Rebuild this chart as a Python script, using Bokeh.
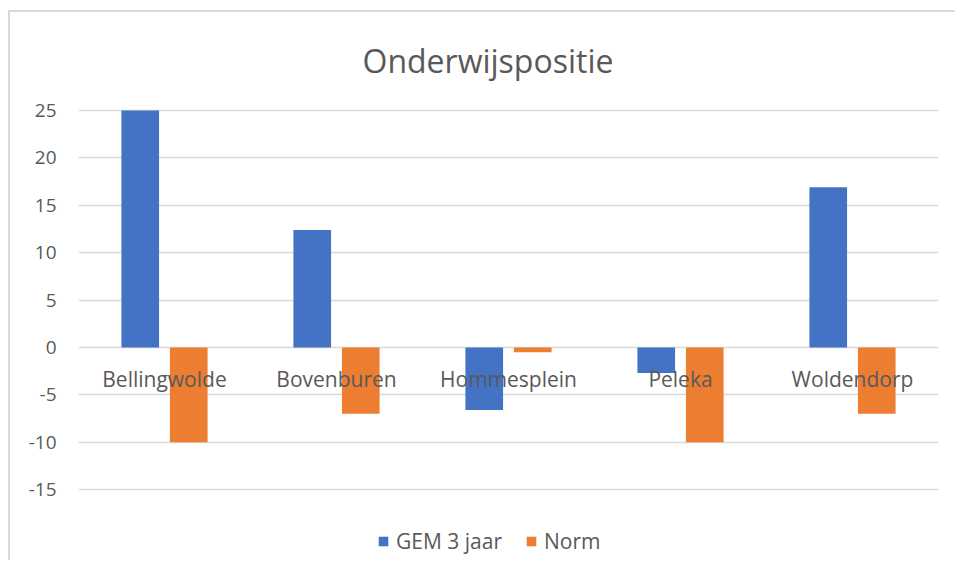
from bokeh.plotting import figure
from bokeh.models import (ColumnDataSource, FactorRange, Range1d, FixedTicker, Legend, LegendItem,
                          CustomJSTickFormatter)
from bokeh.transform import dodge
from bokeh.core.properties import value
from bokeh.embed import file_html
from bokeh.resources import INLINE

categories = ["Bellingwolde", "Bovenburen", "Hommesplein", "Peleka", "Woldendorp"]
gem_3_jaar = [25.0, 12.4, -6.6, -2.7, 16.9]
norm = [-10.0, -7.0, -0.5, -10.0, -7.0]
y_ticks = [-15, -10, -5, 0, 5, 10, 15, 20, 25]
title_text = "Onderwijspositie"
series_names = ["GEM 3 jaar", "Norm"]

FONT = "Open Sans"
GRAY = "#595959"
BLUE = "#4472C4"
ORANGE = "#ED7D31"

src = ColumnDataSource(dict(cat=categories, gem=gem_3_jaar, norm=norm,
                            zero=[0] * len(categories)))

p = figure(x_range=FactorRange(*categories, range_padding=0),
           y_range=Range1d(-22.15, 25.316),
           width=947, height=550, output_backend="svg", toolbar_location=None,
           min_border_left=68, min_border_right=19, min_border_top=95, min_border_bottom=5)
p.margin = (10, 0, 0, 8)

p.title.text = title_text
p.title.align = "left"
p.title.offset = 284
p.title.vertical_align = "top"
p.title.text_font = FONT
p.title.text_font_size = "32px"
p.title.text_font_style = "normal"
p.title.text_color = GRAY
p.title.standoff = 48

p.outline_line_color = None
p.xaxis.visible = False
p.xgrid.grid_line_color = None
p.ygrid.grid_line_color = "#d9d9d9"
p.ygrid.grid_line_width = 1.5
p.yaxis.ticker = FixedTicker(ticks=y_ticks)
p.yaxis.formatter = CustomJSTickFormatter(code="return tick.toString();")
p.yaxis.axis_line_color = None
p.yaxis.major_tick_line_color = None
p.yaxis.minor_tick_line_color = None
p.yaxis.major_label_text_font = FONT
p.yaxis.major_label_text_font_size = "19px"
p.yaxis.major_label_text_color = GRAY
p.yaxis.major_label_standoff = 16

r1 = p.vbar(x=dodge("cat", -0.141, range=p.x_range), top="gem", bottom=0, width=0.219,
            source=src, fill_color=BLUE, line_color=None)
r2 = p.vbar(x=dodge("cat", 0.141, range=p.x_range), top="norm", bottom=0, width=0.219,
            source=src, fill_color=ORANGE, line_color=None)

p.text(x="cat", y="zero", text="cat", source=src, y_offset=31,
       text_align="center", text_baseline="middle",
       text_font=value(FONT), text_font_size="21px", text_color=GRAY)

legend = Legend(items=[LegendItem(label=series_names[0], renderers=[r1]),
                       LegendItem(label=series_names[1], renderers=[r2])],
                location=(299, 2), orientation="horizontal",
                margin=0, padding=4, spacing=23, glyph_width=12, glyph_height=12,
                label_height=22, label_standoff=7,
                label_text_font=FONT, label_text_font_size="21px", label_text_color=GRAY,
                border_line_color=None, background_fill_alpha=0)
p.add_layout(legend)

p.styles = {"border-left": "2px solid #d9d9d9", "border-top": "2px solid #d9d9d9"}

open("out.html", "w").write(file_html(p, INLINE))
